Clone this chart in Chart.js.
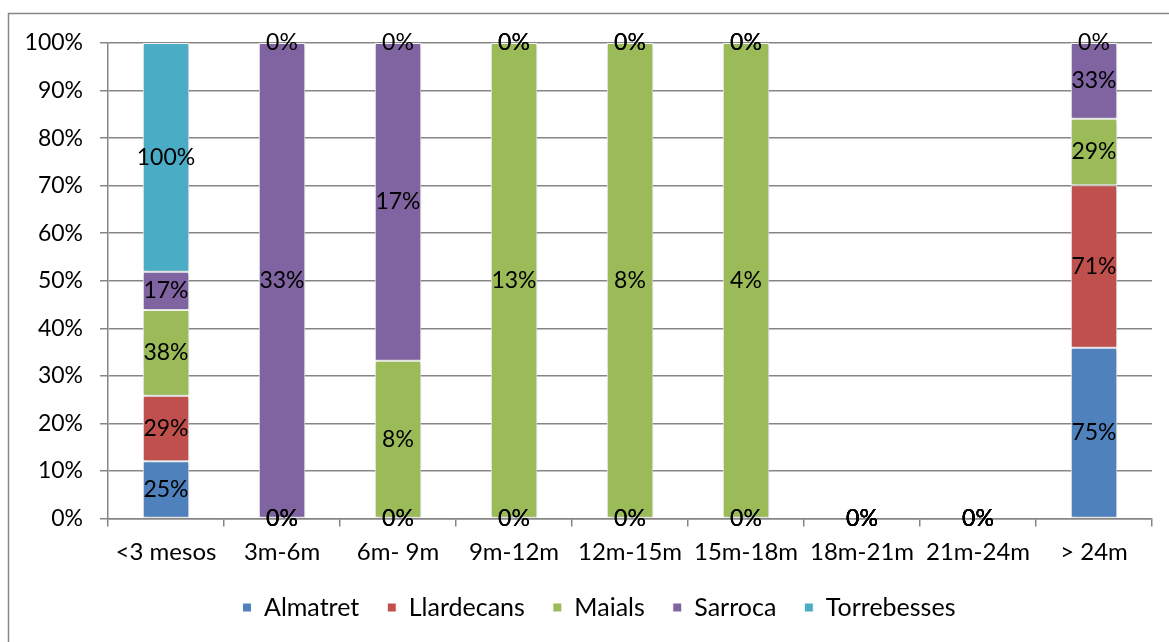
<!DOCTYPE html>
<html>
<head>
<meta charset="utf-8">
<script src="https://cdn.jsdelivr.net/npm/chart.js@4/dist/chart.umd.min.js"></script>
<style>
  html, body { margin: 0; padding: 0; background: #fff; }
  #wrap { width: 1169px; height: 642px; position: relative; }
</style>
</head>
<body>
<div id="wrap"><canvas id="c" width="1169" height="642"></canvas></div>
<script>
const categories = ['<3 mesos', '3m-6m', '6m- 9m', '9m-12m', '12m-15m', '15m-18m', '18m-21m', '21m-24m', '> 24m'];
const seriesNames = ['Almatret', 'Llardecans', 'Maials', 'Sarroca', 'Torrebesses'];
const almatret    = [25,   0,    0,    0,    0,   0,   0, 0, 75];
const llardecans  = [28.6, 0,    0,    0,    0,   0,   0, 0, 71.4];
const maials      = [37.5, 0,    8.3,  12.5, 8.3, 4.2, 0, 0, 29.2];
const sarroca     = [16.7, 33.3, 16.7, 0,    0,   0,   0, 0, 33.3];
const torrebesses = [100,  0,    0,    0,    0,   0,   0, 0, 0];
const yTicks = [0, 10, 20, 30, 40, 50, 60, 70, 80, 90, 100];
const colors = ['#4F81BD', '#C0504D', '#9BBB59', '#8064A2', '#4BACC6'];

const raw = [almatret, llardecans, maials, sarroca, torrebesses];
const totals = categories.map((_, i) => raw.reduce((s, a) => s + a[i], 0));
const shares = raw.map(a => a.map((v, i) => totals[i] ? v / totals[i] * 100 : 0));

const FONT = 'Lato, "Open Sans", sans-serif';

const frame = {
  id: 'frame',
  beforeDraw(chart) {
    const ctx = chart.ctx;
    ctx.save();
    ctx.fillStyle = '#fff';
    ctx.fillRect(0, 0, chart.width, chart.height);
    ctx.strokeStyle = '#868686';
    ctx.lineWidth = 1.5;
    ctx.strokeRect(8.5, 13.5, 1300, 800);
    ctx.restore();
  }
};

const legendShift = {
  id: 'legendShift',
  afterLayout(chart) {
    const lg = chart.legend;
    if (lg) {
      lg.left = 46;
      lg.width = lg.right - lg.left;
    }
  }
};

const barShadow = {
  id: 'barShadow',
  beforeDatasetsDraw(chart) {
    const ctx = chart.ctx;
    ctx.save();
    ctx.shadowColor = 'rgba(0,0,0,0.22)';
    ctx.shadowBlur = 4;
    ctx.shadowOffsetX = 1;
    ctx.shadowOffsetY = 1;
  },
  afterDatasetsDraw(chart) {
    chart.ctx.restore();
  }
};

const valueLabels = {
  id: 'valueLabels',
  afterDatasetsDraw(chart) {
    const ctx = chart.ctx;
    ctx.save();
    ctx.font = '23px ' + FONT;
    ctx.fillStyle = '#000';
    ctx.textAlign = 'center';
    ctx.textBaseline = 'middle';
    chart.data.datasets.forEach((ds, di) => {
      const meta = chart.getDatasetMeta(di);
      meta.data.forEach((el, i) => {
        const v = ds.rawValues[i];
        const y = (el.y + el.base) / 2;
        ctx.fillText(Math.round(v) + '%', el.x, y);
      });
    });
    ctx.restore();
  }
};

new Chart(document.getElementById('c'), {
  type: 'bar',
  data: {
    labels: categories,
    datasets: seriesNames.map((n, k) => ({
      label: n,
      data: shares[k],
      rawValues: raw[k],
      backgroundColor: colors[k],
      borderColor: '#ffffff',
      borderWidth: ctx => (ctx.raw > 0 ? 1 : 0),
      borderSkipped: false,
      categoryPercentage: 1,
      barPercentage: 0.4
    }))
  },
  options: {
    responsive: false,
    animation: false,
    devicePixelRatio: 1,
    layout: { padding: { top: 43, right: 17, left: 0, bottom: 12 } },
    plugins: {
      legend: {
        position: 'bottom',
        labels: {
          font: { family: FONT, size: 25 },
          color: '#000',
          boxWidth: 9,
          boxHeight: 9,
          padding: 28
        }
      },
      tooltip: { enabled: false }
    },
    scales: {
      x: {
        stacked: true,
        grid: { offset: true, drawOnChartArea: false, drawTicks: true, tickLength: 8, color: '#868686', lineWidth: 1.5 },
        border: { color: '#868686', width: 1.5 },
        ticks: { font: { family: FONT, size: 24 }, color: '#000', padding: 11, maxRotation: 0, autoSkip: false },
        afterFit(scale) { scale.height = 48.5; }
      },
      y: {
        stacked: true,
        min: 0,
        max: 100,
        afterBuildTicks(scale) { scale.ticks = yTicks.map(v => ({ value: v })); },
        grid: { color: '#868686', lineWidth: 1.5, tickLength: 8 },
        border: { color: '#868686', width: 1.5 },
        ticks: { font: { family: FONT, size: 23 }, color: '#000', padding: 17, callback: v => v + '%' },
        afterFit(scale) { scale.width = 108; }
      }
    }
  },
  plugins: [frame, legendShift, barShadow, valueLabels]
});
</script>
</body>
</html>
